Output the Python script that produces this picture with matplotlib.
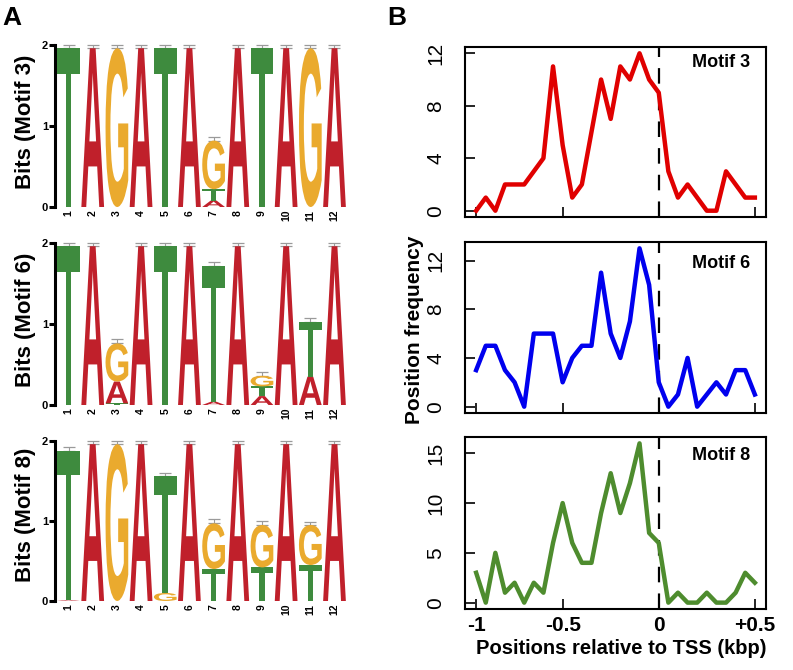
import matplotlib
matplotlib.use("Agg")
import matplotlib.pyplot as plt
from matplotlib.textpath import TextPath
from matplotlib.font_manager import FontProperties
from matplotlib.patches import PathPatch
from matplotlib.transforms import Affine2D

plt.rcParams['font.family'] = ['Liberation Sans', 'DejaVu Sans']

# ---------------- data: sequence logos (bits per letter) ----------------
positions = list(range(1, 13))
motif_names = ["Motif 3", "Motif 6", "Motif 8"]

motif3_A = [0, 1.96, 0, 1.96, 0, 1.96, 0.08, 1.96, 0, 1.96, 0, 1.96]
motif3_G = [0, 0, 1.96, 0, 0, 0, 0.60, 0, 0, 0, 1.96, 0]
motif3_T = [1.96, 0, 0, 0, 1.96, 0, 0.14, 0, 1.96, 0, 0, 0]
motif3_err = [0.04, 0.04, 0.04, 0.04, 0.04, 0.04, 0.05, 0.04, 0.04, 0.04, 0.04, 0.04]

motif6_A = [0, 1.96, 0.27, 1.96, 0, 1.96, 0.04, 1.96, 0.11, 1.96, 0.35, 1.96]
motif6_G = [0, 0, 0.47, 0, 0, 0, 0, 0, 0.13, 0, 0, 0]
motif6_T = [1.96, 0, 0.02, 0, 1.96, 0, 1.68, 0, 0.12, 0, 0.68, 0]
motif6_err = [0.04, 0.04, 0.05, 0.04, 0.04, 0.04, 0.05, 0.04, 0.05, 0.04, 0.04, 0.04]

motif8_A = [0.01, 1.96, 0, 1.96, 0, 1.96, 0, 1.96, 0, 1.96, 0, 1.96]
motif8_G = [0, 0, 1.96, 0, 0.10, 0, 0.57, 0, 0.53, 0, 0.50, 0]
motif8_T = [1.87, 0, 0, 0, 1.46, 0, 0.40, 0, 0.42, 0, 0.45, 0]
motif8_err = [0.05, 0.04, 0.04, 0.04, 0.04, 0.04, 0.05, 0.04, 0.05, 0.04, 0.04, 0.04]

# ---------------- data: position frequency around TSS ----------------
bins = list(range(1, 31))
tick_bins = [1, 10, 20, 30]
tick_labels = ["-1", "-0.5", "0", "+0.5"]
tss_bin = 20

freq_motif3 = [0, 1, 0, 2, 2, 2, 3, 4, 11, 5, 1, 2, 6, 10, 7, 11, 10, 12, 10, 9,
               3, 1, 2, 1, 0, 0, 3, 2, 1, 1]
freq_motif6 = [3, 5, 5, 3, 2, 0, 6, 6, 6, 2, 4, 5, 5, 11, 6, 4, 7, 13, 10, 2,
               0, 1, 4, 0, 1, 2, 1, 3, 3, 1]
freq_motif8 = [3, 0, 5, 1, 2, 0, 2, 1, 6, 10, 6, 4, 4, 9, 13, 9, 12, 16, 7, 6,
               0, 1, 0, 0, 1, 0, 0, 1, 3, 2]

# ---------------- styling ----------------
letter_colors = {"A": "#C0202B", "G": "#EAAA2E", "T": "#3E8B3E"}
line_colors = ["#E00000", "#0000EE", "#4E8C2E"]

W, H = 793, 670
fig = plt.figure(figsize=(W / 100, H / 100), dpi=100)

fp = FontProperties(family="Liberation Sans", weight="bold")


def draw_letter(ax, letter, xc, y0, width, height, color):
    tp = TextPath((0, 0), letter, size=1, prop=fp)
    bb = tp.get_extents()
    tr = (Affine2D().translate(-bb.x0, -bb.y0)
          .scale(width / bb.width, height / bb.height)
          .translate(xc - width / 2, y0))
    path = tr.transform_path(tp)
    ax.add_patch(PathPatch(path, facecolor=color, edgecolor="none",
                           zorder=3, clip_on=False))


def fpos(left_px, top_px, right_px, bottom_px):
    return [left_px / W, 1 - bottom_px / H, (right_px - left_px) / W,
            (bottom_px - top_px) / H]


logo_data = [
    (motif3_A, motif3_G, motif3_T, motif3_err),
    (motif6_A, motif6_G, motif6_T, motif6_err),
    (motif8_A, motif8_G, motif8_T, motif8_err),
]
logo_boxes = [(45, 207), (243, 405), (441, 601)]
bits_label_y = [122, 320, 515]

for (Av, Gv, Tv, errv), (top_px, bot_px), ly, name in zip(
        logo_data, logo_boxes, bits_label_y, motif_names):
    ax = fig.add_axes(fpos(55, top_px, 349, bot_px))
    ax.set_xlim(0.44, 12.6)
    ax.set_ylim(0, 2)
    tops = []
    for i, p in enumerate(positions):
        stack = [("A", Av[i]), ("G", Gv[i]), ("T", Tv[i])]
        stack = sorted([s for s in stack if s[1] > 0], key=lambda s: s[1])
        y = 0.0
        for letter, h in stack:
            draw_letter(ax, letter, p, y, 0.94, h, letter_colors[letter])
            y += h
        tops.append(y)
    for i, p in enumerate(positions):
        e = errv[i]
        ax.errorbar(p, tops[i] + e / 2, yerr=e / 2, color="#9a9a9a",
                    lw=0.8, capsize=4, capthick=0.9, zorder=2, clip_on=False)
    for s in ["top", "right", "bottom"]:
        ax.spines[s].set_visible(False)
    ax.spines["left"].set_linewidth(2.2)
    ax.spines["left"].set_bounds(0, 2)
    ax.set_yticks([0, 1, 2])
    ax.set_yticklabels(["0", "1", "2"], fontsize=8, fontweight="bold")
    ax.tick_params(axis="y", direction="out", length=4, width=2.2, pad=1)
    ax.set_xticks(positions)
    ax.set_xticklabels([str(p) for p in positions], rotation=90,
                       fontsize=7.5, fontweight="bold")
    ax.tick_params(axis="x", length=0, pad=2)
    fig.text(25 / W, 1 - ly / H, "Bits (%s)" % name, rotation=90,
             ha="center", va="center", fontsize=16, fontweight="bold")

# ---------------- right: line plots ----------------
freqs = [freq_motif3, freq_motif6, freq_motif8]
line_boxes = [(47, 217), (242, 413), (437, 609)]
yticks_sets = [[0, 4, 8, 12], [0, 4, 8, 12], [0, 5, 10, 15]]
label_y = [0.906, 0.877, 0.895]

for k, (vals, (top_px, bot_px), yt, name) in enumerate(
        zip(freqs, line_boxes, yticks_sets, motif_names)):
    ax = fig.add_axes(fpos(465, top_px, 766, bot_px))
    ax.plot(bins, vals, color=line_colors[k], lw=3.2, solid_joinstyle="round",
            zorder=3)
    vmax = max(vals)
    ax.set_ylim(-0.04 * vmax, vmax * 1.04)
    ax.set_xlim(1 - 0.04 * 29, 30 + 0.04 * 29)
    ax.axvline(tss_bin, color="black", lw=1.6, dashes=(7, 5), zorder=2)
    for s in ax.spines.values():
        s.set_linewidth(1.5)
    ax.set_yticks(yt)
    ax.set_yticklabels([str(v) for v in yt], rotation=90, va="center",
                       fontsize=15)
    ax.tick_params(axis="y", direction="in", length=7, width=1.2, pad=14)
    ax.set_xticks(tick_bins)
    ax.tick_params(axis="x", direction="in", length=7, width=1.2)
    if k == 2:
        ax.set_xticklabels(tick_labels, fontsize=15, fontweight="bold")
        ax.tick_params(axis="x", pad=5)
    else:
        ax.set_xticklabels([])
    ax.text(0.947, label_y[k], name, transform=ax.transAxes, ha="right",
            va="center", fontsize=13, fontweight="bold")

fig.text(621 / W, 1 - 648 / H, "Positions relative to TSS (kbp)",
         ha="center", va="center", fontsize=14.5, fontweight="bold")
fig.text(415 / W, 1 - 330 / H, "Position frequency", rotation=90,
         ha="center", va="center", fontsize=15, fontweight="bold")

fig.text(2 / W, 1 - 6 / H, "A", ha="left", va="top", fontsize=19,
         fontweight="bold")
fig.text(387 / W, 1 - 6 / H, "B", ha="left", va="top", fontsize=19,
         fontweight="bold")

fig.savefig("out.png", dpi=100)
